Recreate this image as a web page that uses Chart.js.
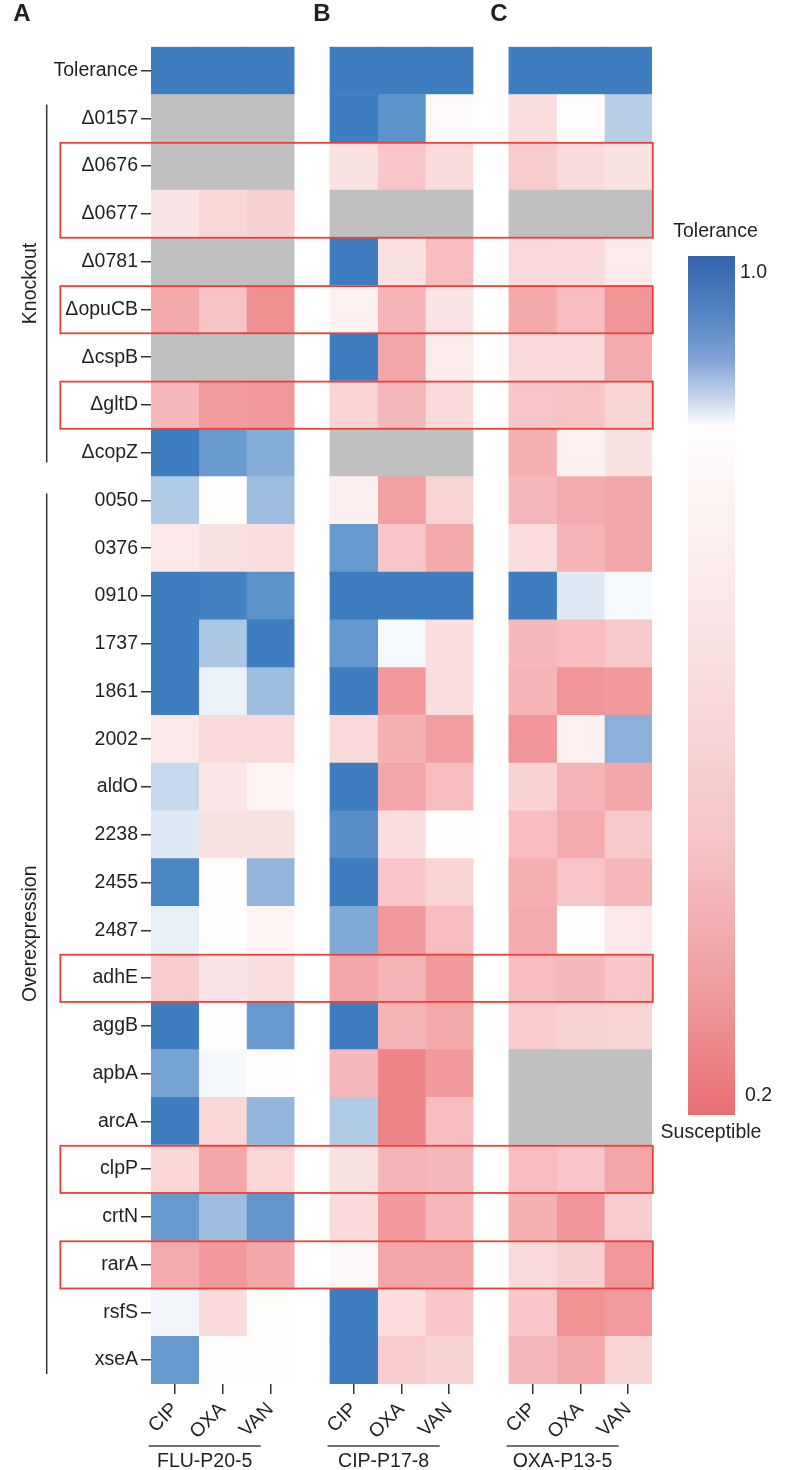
<!DOCTYPE html>
<html><head><meta charset="utf-8">
<script src="https://cdn.jsdelivr.net/npm/chart.js@4.4.1/dist/chart.umd.min.js"></script>
<style>html,body{margin:0;padding:0;background:#fff;}canvas{display:block;}</style>
</head><body>
<canvas id="c" width="792" height="1470"></canvas>
<script>
// ---------- data ----------
const rowLabels = ['Tolerance','Δ0157','Δ0676','Δ0677','Δ0781','ΔopuCB','ΔcspB','ΔgltD','ΔcopZ',
  '0050','0376','0910','1737','1861','2002','aldO','2238','2455','2487','adhE','aggB','apbA','arcA',
  'clpP','crtN','rarA','rsfS','xseA'];
const drugLabels = ['CIP','OXA','VAN'];
const strainLabels = ['FLU-P20-5','CIP-P17-8','OXA-P13-5'];
const panelLetters = ['A','B','C'];
const groupNames = ['Knockout','Overexpression'];
const groupFirstRow = ['Δ0157','0050'];
const groupLastRow = ['ΔcopZ','xseA'];
const highlightFirst = ['Δ0676','ΔopuCB','ΔgltD','adhE','clpP','rarA'];
const highlightLast  = ['Δ0677','ΔopuCB','ΔgltD','adhE','clpP','rarA'];
const colorbarTitle = 'Tolerance';
const colorbarBottomTitle = 'Susceptible';
const colorbarTickLabels = ['1.0','0.2'];

// null = not measured (grey)
const fluCIP = [1.0,null,null,0.73,null,0.47,null,0.54,1.0,0.91,0.75,1.0,1.0,1.0,0.75,0.895,0.875,0.99,0.868,0.62,1.0,0.955,1.0,0.67,0.968,0.48,0.86,0.968];
const fluOXA = [1.0,null,null,0.67,null,0.59,null,0.41,0.965,0.835,0.72,0.995,0.915,0.865,0.68,0.74,0.72,0.835,0.845,0.73,0.845,0.857,0.67,0.46,0.925,0.40,0.69,0.835];
const fluVAN = [1.0,null,null,0.64,null,0.36,null,0.39,0.945,0.925,0.71,0.975,1.0,0.925,0.68,0.80,0.72,0.935,0.80,0.71,0.968,0.84,0.935,0.67,0.972,0.46,0.835,0.835];
const cipCIP = [1.0,1.0,0.72,null,1.0,0.79,1.0,0.66,null,0.78,0.968,1.0,0.97,1.0,0.68,1.0,0.98,1.0,0.948,0.45,1.0,0.54,0.91,0.72,0.69,0.82,1.0,1.0];
const cipOXA = [1.0,0.975,0.60,null,0.72,0.52,0.46,0.54,null,0.43,0.60,1.0,0.856,0.40,0.50,0.46,0.71,0.60,0.40,0.52,0.52,0.31,0.31,0.52,0.40,0.45,0.70,0.62];
const cipVAN = [1.0,0.83,0.69,null,0.56,0.73,0.76,0.69,null,0.66,0.47,1.0,0.71,0.71,0.42,0.56,0.84,0.66,0.56,0.40,0.47,0.40,0.56,0.54,0.53,0.45,0.60,0.65];
const oxaCIP = [1.0,0.71,0.62,null,0.68,0.47,0.68,0.60,0.50,0.54,0.70,1.0,0.54,0.52,0.38,0.65,0.56,0.50,0.48,0.56,0.63,null,null,0.56,0.50,0.68,0.60,0.54];
const oxaOXA = [1.0,0.835,0.69,null,0.69,0.56,0.69,0.59,0.79,0.48,0.52,0.875,0.56,0.38,0.79,0.52,0.48,0.60,0.84,0.54,0.65,null,null,0.60,0.38,0.64,0.37,0.47];
const oxaVAN = [1.0,0.905,0.72,null,0.76,0.38,0.48,0.66,0.72,0.46,0.46,0.856,0.61,0.40,0.94,0.46,0.61,0.53,0.75,0.60,0.66,null,null,0.45,0.63,0.39,0.41,0.66];

// ---------- styling / layout ----------
const TEXT = '#231f20';
const FONT = "'Liberation Sans', Arial, Helvetica, sans-serif";
const GAP = 0.75;              // gap between panels, in cell widths
const MID = 0.85;              // white point of the diverging map
function colorFor(v){
  let c;
  if (v >= MID){ const t = Math.min(1,(v-MID)/(1-MID)); c = [255+t*(61-255),255+t*(125-255),255+t*(192-255)]; }
  else { const t = Math.min(1,(MID-v)/(MID-0.2)); c = [255+t*(236-255),255+t*(108-255),255+t*(112-255)]; }
  return 'rgb(' + c.map(Math.round).join(',') + ')';
}

const series = [[fluCIP,fluOXA,fluVAN],[cipCIP,cipOXA,cipVAN],[oxaCIP,oxaOXA,oxaVAN]];
const colCenters = [], colTickLabels = [], datasets = [];
series.forEach((panel,p)=>panel.forEach((vals,d)=>{
  const cx = p*(3+GAP)+d;
  colCenters.push(cx); colTickLabels.push(drugLabels[d]);
  datasets.push({
    label: strainLabels[p]+' '+drugLabels[d],
    data: vals.map(()=>[cx-0.5, cx+0.5]),
    backgroundColor: vals.map(v => v==null ? '#c0c0c0' : colorFor(v)),
    barPercentage:1, categoryPercentage:1, grouped:false, borderWidth:0
  });
}));
const xMin = colCenters[0]-0.5, xMax = colCenters[colCenters.length-1]+0.5;

const overlay = {
  id:'overlay',
  afterDatasetsDraw(chart){
    const {ctx, scales:{x,y}} = chart;
    const rowH = y.getPixelForValue(1)-y.getPixelForValue(0);
    ctx.save();
    ctx.strokeStyle = '#e8413b'; ctx.lineWidth = 1.8;
    const xl = x.getPixelForValue(-2.4), xr = x.getPixelForValue(xMax)+0.8;
    highlightFirst.forEach((a,i)=>{
      const t = y.getPixelForValue(rowLabels.indexOf(a)) - rowH/2 + 0.6;
      const b = y.getPixelForValue(rowLabels.indexOf(highlightLast[i])) + rowH/2;
      ctx.strokeRect(xl, t, xr-xl, b-t);
    });
    ctx.restore();
  },
  afterDraw(chart){
    const {ctx, scales:{x,y}, chartArea} = chart;
    const rowH = y.getPixelForValue(1)-y.getPixelForValue(0);
    ctx.save();
    // strain group lines + labels
    ctx.strokeStyle = '#444'; ctx.lineWidth = 1.5;
    ctx.fillStyle = TEXT; ctx.font = '19.5px '+FONT; ctx.textAlign='center'; ctx.textBaseline='middle';
    strainLabels.forEach((s,p)=>{
      const c0 = colCenters[p*3];
      const x1 = x.getPixelForValue(c0-0.55), x2 = x.getPixelForValue(c0+1.8);
      const ly = chartArea.bottom + 62;
      ctx.beginPath(); ctx.moveTo(x1,ly); ctx.lineTo(x2,ly); ctx.stroke();
      ctx.fillText(s, (x1+x2)/2, chartArea.bottom + 78);
    });
    // row group brackets
    ctx.strokeStyle = '#333';
    const bx = 46.7;
    const insets = [[10,14],[17,10]];
    groupNames.forEach((g,i)=>{
      const t = y.getPixelForValue(rowLabels.indexOf(groupFirstRow[i])) - rowH/2 + insets[i][0];
      const b = y.getPixelForValue(rowLabels.indexOf(groupLastRow[i])) + rowH/2 - insets[i][1];
      ctx.beginPath(); ctx.moveTo(bx,t); ctx.lineTo(bx,b); ctx.stroke();
      ctx.save(); ctx.translate(31,(t+b)/2); ctx.rotate(-Math.PI/2);
      ctx.fillText(g,0,0); ctx.restore();
    });
    // panel letters
    ctx.font = 'bold 24px '+FONT;
    const letterX = [22, x.getPixelForValue(colCenters[3]-0.5)-8, x.getPixelForValue(colCenters[6]-0.5)-10];
    panelLetters.forEach((L,i)=>ctx.fillText(L, letterX[i], 14));
    // colour bar
    const cbx = 688, cbw = 47, cbt = 256, cbb = 1115;
    const g = ctx.createLinearGradient(0,cbt,0,cbb);
    [[0,'rgb(52,100,170)'],[0.06,'rgb(78,128,192)'],[0.12,'rgb(128,163,214)'],[0.17,'rgb(205,218,239)'],
     [0.198,'rgb(255,255,255)'],[0.23,'rgb(254,249,249)'],[0.45,'rgb(250,226,227)'],[0.69,'rgb(245,195,197)'],
     [0.87,'rgb(238,152,154)'],[1,'rgb(232,110,116)']].forEach(([o,c])=>g.addColorStop(o,c));
    ctx.fillStyle = g; ctx.fillRect(cbx,cbt,cbw,cbb-cbt);
    ctx.fillStyle = TEXT; ctx.font = '19.5px '+FONT;
    ctx.textAlign='center';
    ctx.fillText(colorbarTitle, 715.5, 232);
    ctx.fillText(colorbarBottomTitle, 711, 1133);
    ctx.textAlign='left';
    ctx.fillText(colorbarTickLabels[0], 740, 273);
    ctx.fillText(colorbarTickLabels[1], 745, 1096);
    ctx.restore();
  }
};

new Chart(document.getElementById('c'), {
  type:'bar',
  data:{ labels: rowLabels, datasets },
  options:{
    indexAxis:'y', responsive:false, animation:false, devicePixelRatio:1,
    layout:{ padding:{ top:46.7, right:140, bottom:0, left:0 } },
    plugins:{ legend:{display:false}, tooltip:{enabled:false} },
    scales:{
      y:{
        type:'category', offset:true,
        grid:{ offset:false, drawOnChartArea:false, tickLength:10, color:'#333', lineWidth:1.5 },
        border:{ display:false },
        ticks:{ color:TEXT, font:{family:FONT, size:19.5}, padding:3, autoSkip:false },
        afterFit:(s)=>{ s.width = 151; }
      },
      x:{
        type:'linear', position:'bottom', min:xMin, max:xMax,
        afterBuildTicks:(s)=>{ s.ticks = colCenters.map(v=>({value:v})); },
        grid:{ drawOnChartArea:false, tickLength:10, color:'#333', lineWidth:1.5 },
        border:{ display:false },
        ticks:{ color:TEXT, font:{family:FONT, size:19.5}, padding:4, autoSkip:false,
                minRotation:45, maxRotation:45, callback:(v,i)=>colTickLabels[i] },
        afterFit:(s)=>{ s.height = 86; }
      }
    }
  },
  plugins:[overlay]
});
</script>
</body></html>
